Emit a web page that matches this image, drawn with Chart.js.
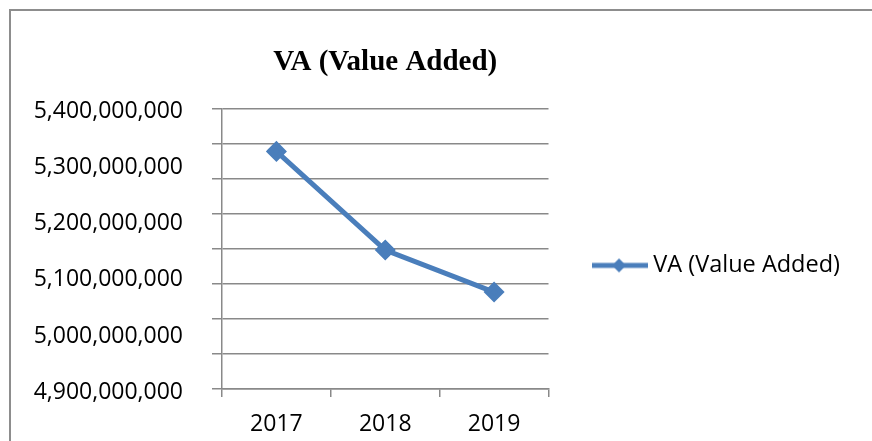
<!DOCTYPE html>
<html>
<head>
<meta charset="utf-8">
<script src="https://cdn.jsdelivr.net/npm/chart.js@4.4.1/dist/chart.umd.min.js"></script>
<style>
  body { margin: 0; background: #fff; }
  #frame {
    position: absolute; left: 9px; top: 9px; width: 880px; height: 450px;
    border-left: 2px solid #8d8d8d; border-top: 2px solid #8d8d8d;
  }
  #wrap { position: absolute; left: 0; top: 0; width: 872px; height: 441px; }
</style>
</head>
<body>
<div id="frame"></div>
<div id="wrap"><canvas id="myChart" width="872" height="441"></canvas></div>
<script>
// datos
const years = ['2017', '2018', '2019'];
const valueAdded = [5324000000, 5148000000, 5073000000];
const yTicks = [4900000000, 5000000000, 5100000000, 5200000000, 5300000000, 5400000000];

const azul = '#4a7ebb';
const gris = '#898989';
const fuente = 'Open Sans';

// icono de la leyenda: línea con rombo al centro
const icono = document.createElement('canvas');
icono.width = 56;
icono.height = 16;
(function () {
  const c = icono.getContext('2d');
  c.strokeStyle = azul;
  c.lineWidth = 5;
  c.beginPath();
  c.moveTo(0, 8);
  c.lineTo(56, 8);
  c.stroke();
  c.fillStyle = azul;
  c.beginPath();
  c.moveTo(27, 1);
  c.lineTo(34, 8);
  c.lineTo(27, 15);
  c.lineTo(20, 8);
  c.closePath();
  c.fill();
})();

const data = {
  labels: years,
  datasets: [{
    label: 'VA (Value Added)',
    data: valueAdded,
    borderColor: azul,
    backgroundColor: azul,
    borderWidth: 5,
    pointStyle: 'rectRot',
    pointRadius: 7,
    pointHoverRadius: 7,
    tension: 0,
    yAxisID: 'y'
  }]
};

const config = {
  type: 'line',
  data,
  options: {
    responsive: false,
    animation: false,
    layout: { padding: { left: 0, top: 0, right: 22, bottom: 4 } },
    plugins: {
      title: {
        display: true,
        text: 'VA (Value Added)',
        color: '#000',
        fullSize: false,
        font: { family: 'Liberation Serif', size: 29, weight: 'bold' },
        padding: { top: 45, bottom: 29 }
      },
      legend: {
        position: 'right',
        fullSize: false,
        maxWidth: 320,
        title: { display: true, text: '', font: { size: 10 }, padding: { top: 21, bottom: 0 } },
        labels: {
          usePointStyle: true,
          pointStyle: icono,
          pointStyleWidth: 43,
          padding: 50,
          color: '#000',
          font: { family: fuente, size: 23.5 }
        }
      },
      tooltip: { enabled: false }
    },
    scales: {
      x: {
        type: 'category',
        offset: true,
        grid: { offset: true, drawOnChartArea: false, drawTicks: true, tickLength: 8, color: gris, lineWidth: 1.5 },
        border: { display: true, color: gris, width: 1.5 },
        ticks: { color: '#000', padding: 14, font: { family: fuente, size: 23 } },
        afterFit: (s) => { s.height = 48; }
      },
      y: {
        position: 'left',
        weight: 1,
        min: yTicks[0],
        max: yTicks[yTicks.length - 1],
        afterBuildTicks: (s) => { s.ticks = yTicks.map(v => ({ value: v })); },
        grid: { display: false, drawTicks: false, tickLength: 0 },
        border: { display: false },
        ticks: {
          color: '#000',
          padding: 29,
          labelOffset: 3,
          font: { family: fuente, size: 23 },
          callback: (v) => Number(v).toLocaleString('en-US')
        },
        afterFit: (s) => { s.width = 212; }
      },
      yGrid: {
        position: 'left',
        weight: 0,
        min: yTicks[0],
        max: yTicks[yTicks.length - 1],
        ticks: { display: false, stepSize: 62500000 },
        grid: { color: gris, lineWidth: 1.5, tickLength: 10, drawTicks: true },
        border: { display: true, color: gris, width: 1.5 },
        afterFit: (s) => { s.width = 10; }
      }
    }
  }
};

const myChart = new Chart(document.getElementById('myChart'), config);
</script>
</body>
</html>
